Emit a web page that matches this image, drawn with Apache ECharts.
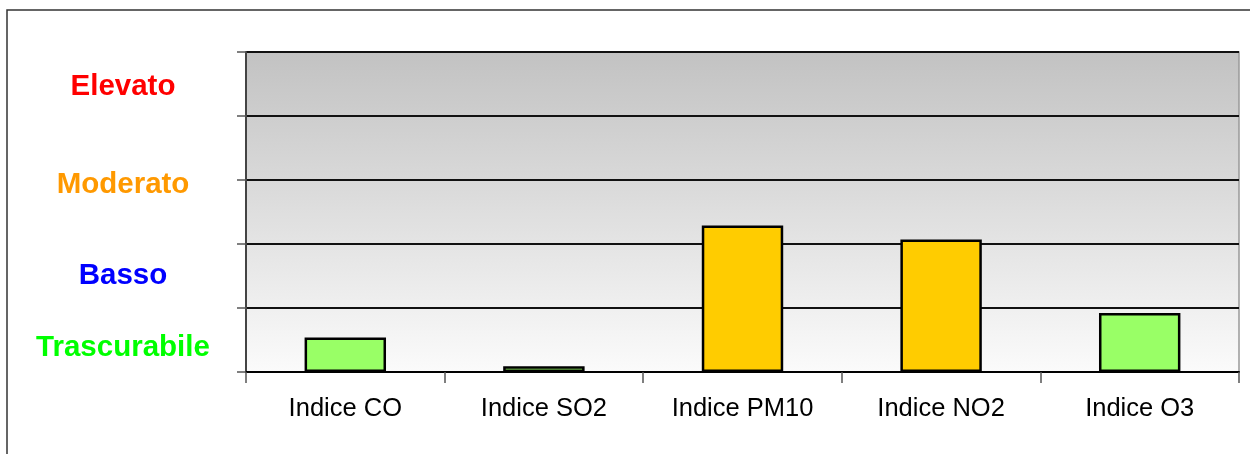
<!DOCTYPE html>
<html>
<head>
<meta charset="utf-8">
<script src="https://cdn.jsdelivr.net/npm/echarts@6/dist/echarts.min.js"></script>
<style>
html,body{margin:0;padding:0;background:#fff;}
#chart{width:1250px;height:454px;}
</style>
</head>
<body>
<div id="chart"></div>
<script>
var categories = ['Indice CO', 'Indice SO2', 'Indice PM10', 'Indice NO2', 'Indice O3'];
var values = [0.54, 0.09, 2.29, 2.07, 0.92];
var barColors = ['#99ff66', '#99ff66', '#ffcc00', '#ffcc00', '#99ff66'];
var levelNames = ['Elevato', 'Moderato', 'Basso', 'Trascurabile'];
var levelColors = ['#ff0000', '#ff9900', '#0000ff', '#00ff00'];
var levelY = [87, 185, 276, 348];

var chart = echarts.init(document.getElementById('chart'));
var font = '"Liberation Sans", Arial, sans-serif';

var graphics = [{
  type: 'rect', z: 0, silent: true,
  shape: { x: 7, y: 10, width: 1400, height: 600 },
  style: { fill: 'none', stroke: '#333', lineWidth: 1.5 }
}];
levelNames.forEach(function (n, i) {
  graphics.push({
    type: 'text', z: 10, silent: true,
    x: 123, y: levelY[i],
    style: {
      text: n, fill: levelColors[i], align: 'center', verticalAlign: 'middle',
      font: 'bold 29.5px ' + font
    }
  });
});

chart.setOption({
  animation: false,
  graphic: graphics,
  grid: {
    left: 246, right: 11, top: 52, bottom: 82,
    show: true,
    borderColor: '#999', borderWidth: 1.5,
    backgroundColor: new echarts.graphic.LinearGradient(0, 0, 0, 1, [
      { offset: 0, color: '#c2c2c2' },
      { offset: 1, color: '#fbfbfb' }
    ])
  },
  xAxis: {
    type: 'category',
    data: categories,
    boundaryGap: true,
    axisLine: { show: true, lineStyle: { color: '#000', width: 2 } },
    axisTick: { show: true, length: 11, lineStyle: { color: '#555', width: 1.5 } },
    axisLabel: { color: '#000', fontSize: 25.5, fontFamily: font, margin: 24 },
    splitLine: { show: false }
  },
  yAxis: {
    type: 'value',
    min: 0, max: 5, interval: 1,
    axisLine: { show: true, lineStyle: { color: '#444', width: 2 } },
    axisTick: { show: true, length: 9, lineStyle: { color: '#555', width: 1.5 } },
    axisLabel: { show: false },
    splitLine: { show: true, lineStyle: { color: '#111', width: 2 } }
  },
  series: [{
    type: 'bar',
    barWidth: '41%',
    data: values.map(function (v, i) {
      return { value: v, itemStyle: { color: barColors[i] } };
    }),
    itemStyle: { borderColor: '#000', borderWidth: 2.5 }
  }]
});
</script>
</body>
</html>
